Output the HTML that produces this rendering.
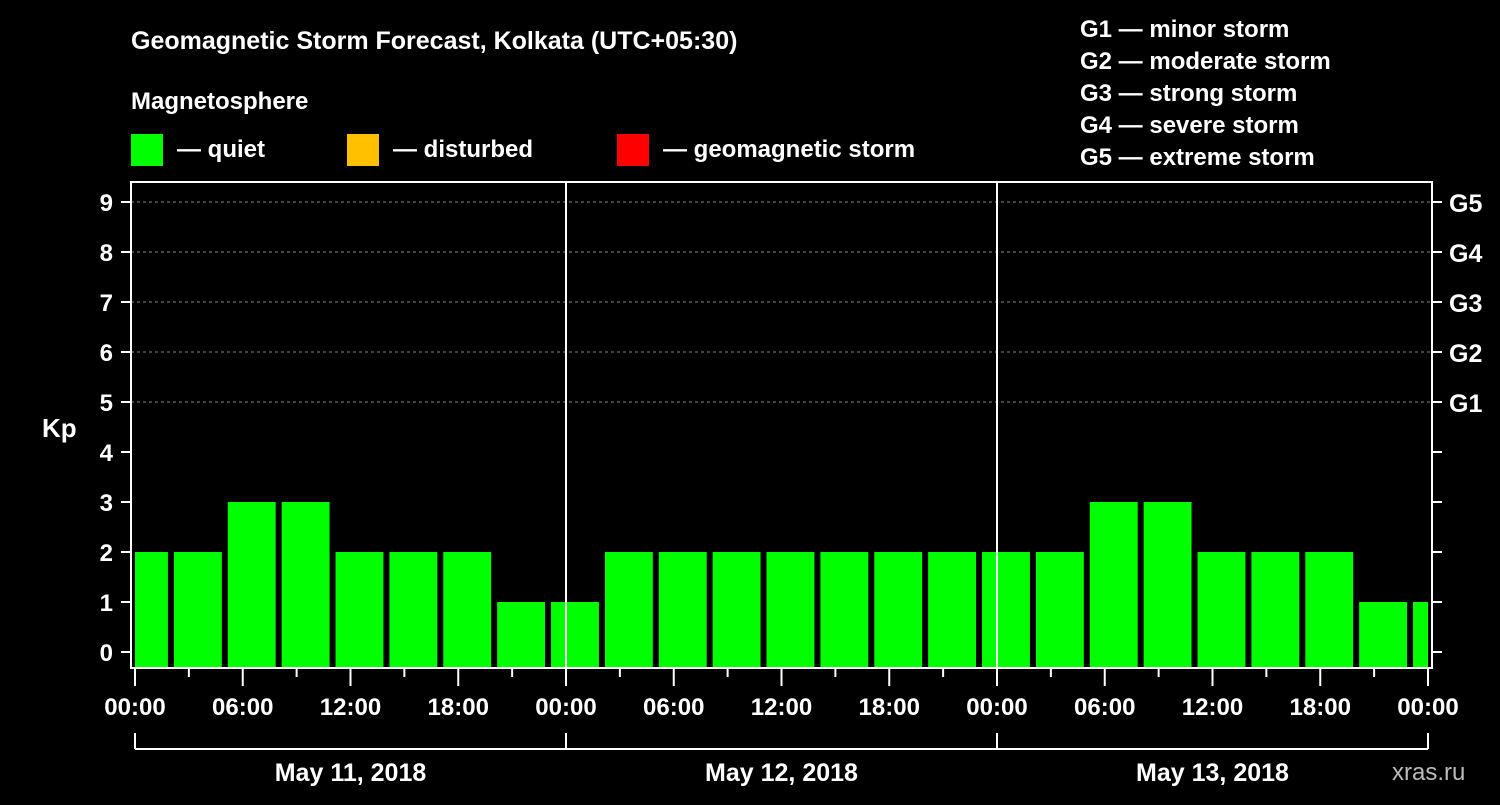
<!DOCTYPE html>
<html><head><meta charset="utf-8"><style>
body{margin:0;background:#000;width:1500px;height:800px;overflow:hidden}
svg text{font-family:"Liberation Sans",Arial,sans-serif;font-weight:bold;fill:#fff}
</style></head><body>
<svg id="c" width="1500" height="800" xmlns="http://www.w3.org/2000/svg">
<rect width="1500" height="800" fill="#000"/>
<text x="131" y="49" font-size="25">Geomagnetic Storm Forecast, Kolkata (UTC+05:30)</text>
<text x="131" y="109" font-size="24">Magnetosphere</text>
<g><rect x="131" y="134" width="32" height="32" fill="#00ff00"/><text x="177" y="157" font-size="24">— quiet</text></g>
<g><rect x="347" y="134" width="32" height="32" fill="#ffc000"/><text x="393" y="157" font-size="24">— disturbed</text></g>
<g><rect x="617" y="134" width="32" height="32" fill="#ff0000"/><text x="663" y="157" font-size="24">— geomagnetic storm</text></g>
<g font-size="24">
<text x="1080" y="37">G1 — minor storm</text><text x="1080" y="69">G2 — moderate storm</text><text x="1080" y="101">G3 — strong storm</text><text x="1080" y="133">G4 — severe storm</text><text x="1080" y="165">G5 — extreme storm</text>
</g>
<text x="42" y="437" font-size="26">Kp</text>
<g id="plot"></g>
<text x="1392" y="780" font-size="24" fill="#bbb" style="fill:#bbb;font-weight:normal">xras.ru</text>
</svg>
<script>
const kpValues=[2,2,3,3,2,2,2,1,1,2,2,2,2,2,2,2,2,2,3,3,2,2,2,1,1];
const yTicks=[0,1,2,3,4,5,6,7,8,9];
const gLabels=["G1","G2","G3","G4","G5"];
const dayLabels=["May 11, 2018","May 12, 2018","May 13, 2018"];
const hourLabels=["00:00","06:00","12:00","18:00"];
const NS="http://www.w3.org/2000/svg";
const X0=135,X1=1428,TOTAL=72;
const xs=h=>X0+(X1-X0)*h/TOTAL;
const ys=v=>652-50*v;
const P=document.getElementById('plot');
function mk(t,a,txt){const e=document.createElementNS(NS,t);for(const k in a)e.setAttribute(k,a[k]);if(txt!=null)e.textContent=txt;P.appendChild(e);return e;}
// grid
for(let v=5;v<=9;v++){const l=mk('line',{x1:131,x2:1432,y1:ys(v),y2:ys(v),stroke:'#888','stroke-dasharray':'3,3'});

}
// bars
kpValues.forEach((v,i)=>{let s=i==0?0:2+3*(i-1),e=Math.min(2+3*i,TOTAL);
let xa=xs(s)+(i==0?0:3),xb=xs(e)-(e>=TOTAL?0:3);
const col=v>=5?'#ff0000':(v>=4?'#ffc000':'#00ff00');
const r=mk('rect',{x:xa,y:ys(v),width:xb-xa,height:668-ys(v),fill:col});

});
// frame
const f=mk('rect',{x:131,y:182,width:1301,height:486,fill:'none',stroke:'#fff','stroke-width':2});


for(let d=1;d<3;d++){const l=mk('line',{x1:xs(24*d),x2:xs(24*d),y1:182,y2:668,stroke:'#fff','stroke-width':2});

}
yTicks.forEach(v=>{mk('line',{x1:121,x2:131,y1:ys(v),y2:ys(v),stroke:'#fff','stroke-width':2});
mk('line',{x1:1432,x2:1442,y1:ys(v),y2:ys(v),stroke:'#fff','stroke-width':2});
const t=mk('text',{x:113,y:ys(v)+9,'font-size':24,'text-anchor':'end'},String(v));

});
gLabels.forEach((g,i)=>{const t=mk('text',{x:1449,y:ys(5+i)+10,'font-size':25},g);

});
for(let h=0;h<=TOTAL;h+=3){const major=h%6==0;mk('line',{x1:xs(h),x2:xs(h),y1:668,y2:major?686:677,stroke:'#fff','stroke-width':2});
if(major){const t=mk('text',{x:xs(h),y:715,'font-size':24,'text-anchor':'middle'},hourLabels[(h/6)%4]);

}}
mk('line',{x1:X0,x2:X1,y1:749,y2:749,stroke:'#fff','stroke-width':2});
for(let d=0;d<=3;d++)mk('line',{x1:xs(24*d),x2:xs(24*d),y1:733,y2:749,stroke:'#fff','stroke-width':2});
dayLabels.forEach((s,d)=>{const t=mk('text',{x:xs(24*d+12),y:781,'font-size':25,'text-anchor':'middle'},s);

});
</script>
</body></html>
